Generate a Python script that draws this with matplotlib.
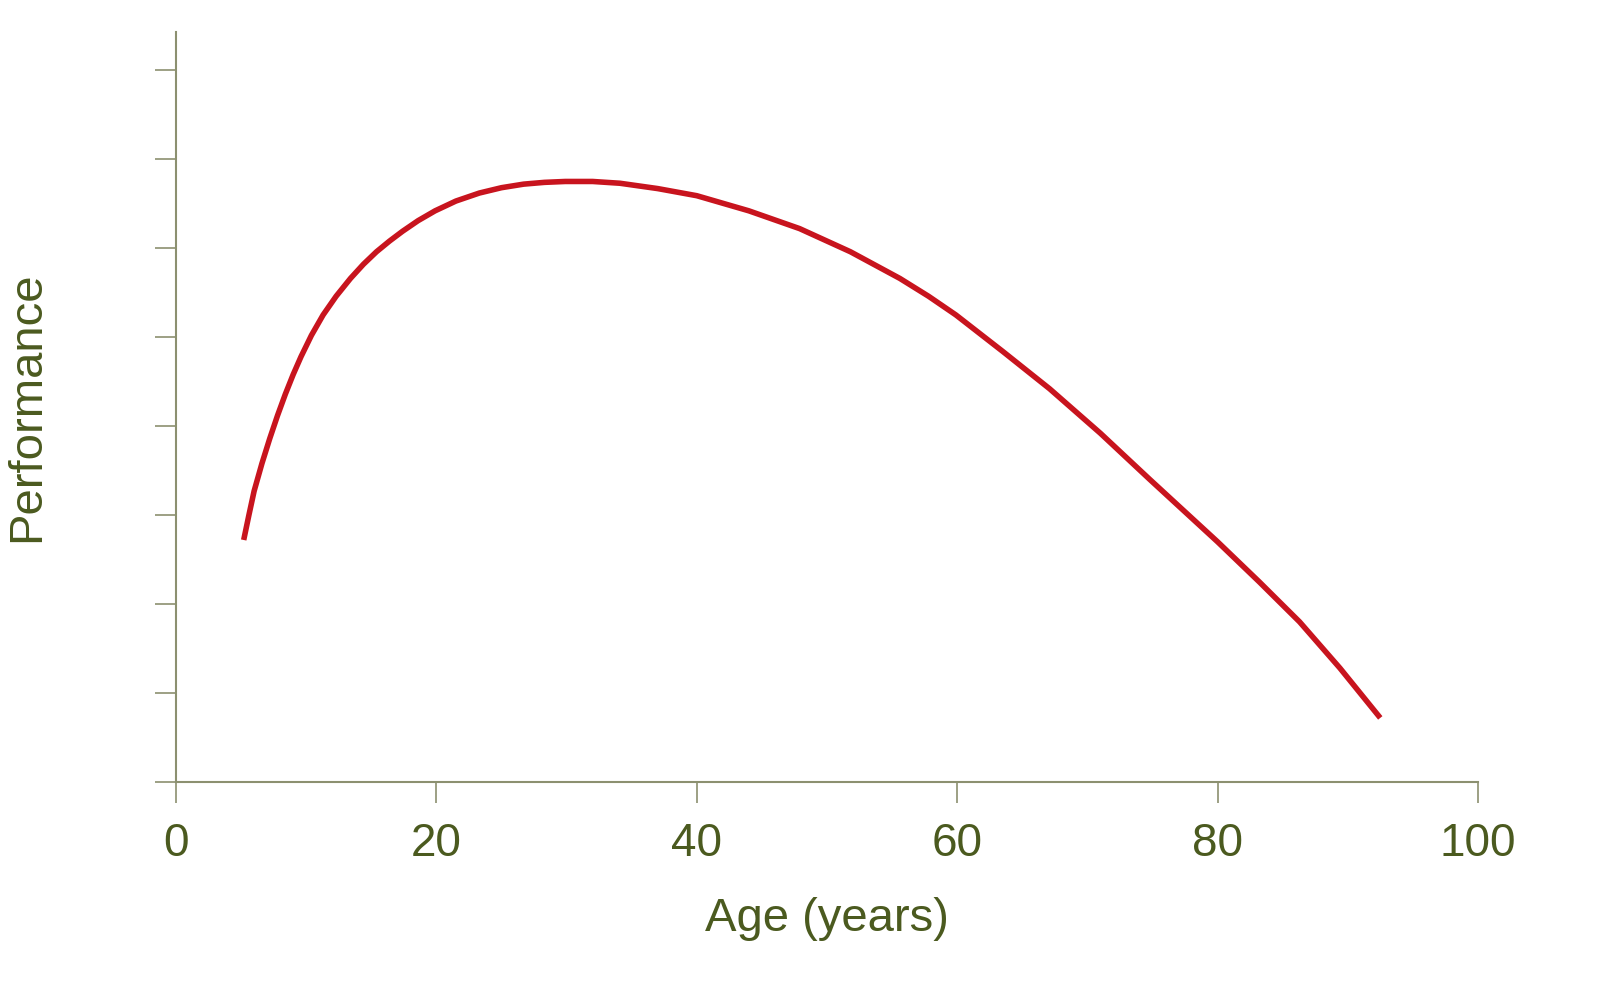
import numpy as np
import matplotlib.pyplot as plt

# --- Data ---
age = [5.2, 5.6, 6.0, 6.6, 7.2, 7.8, 8.4, 9.0, 9.6, 10.4, 11.3, 12.3, 13.4, 14.4,
       15.4, 16.4, 17.4, 18.6, 19.9, 21.5, 23.3, 25.0, 26.7, 28.3, 29.9, 32.0,
       34.1, 37.0, 40.0, 44.0, 47.9, 51.8, 55.6, 57.8, 59.9, 63.5, 67.1, 71.0,
       74.8, 77.4, 80.0, 83.2, 86.3, 89.4, 92.5]
performance = [2.72, 3.00, 3.27, 3.58, 3.86, 4.12, 4.36, 4.58, 4.78, 5.02, 5.25,
               5.46, 5.66, 5.82, 5.96, 6.08, 6.19, 6.31, 6.42, 6.53, 6.62, 6.68,
               6.72, 6.74, 6.75, 6.75, 6.73, 6.67, 6.59, 6.42, 6.22, 5.96, 5.66,
               5.46, 5.25, 4.84, 4.42, 3.92, 3.40, 3.05, 2.70, 2.25, 1.80, 1.28, 0.72]
x_ticks = [0, 20, 40, 60, 80, 100]
y_ticks = [0, 1, 2, 3, 4, 5, 6, 7, 8]

TEXT = '#4b5a1f'
AXIS = '#8c9070'
plt.rcParams['font.family'] = ['Liberation Sans', 'DejaVu Sans']

fig = plt.figure(figsize=(16, 9.82), dpi=100)
ax = fig.add_axes([0.11, 0.2037, 0.8137, 0.7637])

ax.plot(age, performance, color='#c8141e', linewidth=4,
        solid_capstyle='butt', solid_joinstyle='round')

ax.set_xlim(0, 100)
ax.set_ylim(0, 8.43)
ax.set_xticks(x_ticks)
ax.set_yticks(y_ticks)
ax.set_yticklabels([])
ax.tick_params(axis='both', direction='out', length=15, width=1.2, color=AXIS,
               labelsize=33, labelcolor=TEXT, pad=14)

for side in ['top', 'right']:
    ax.spines[side].set_visible(False)
for side in ['left', 'bottom']:
    ax.spines[side].set_color(AXIS)
    ax.spines[side].set_linewidth(1.5)

ax.set_xlabel('Age (years)', fontsize=34, color=TEXT, labelpad=22)
ax.set_ylabel('Performance', fontsize=34, color=TEXT, labelpad=62)

plt.savefig('out.png', dpi=100)
plt.close()
